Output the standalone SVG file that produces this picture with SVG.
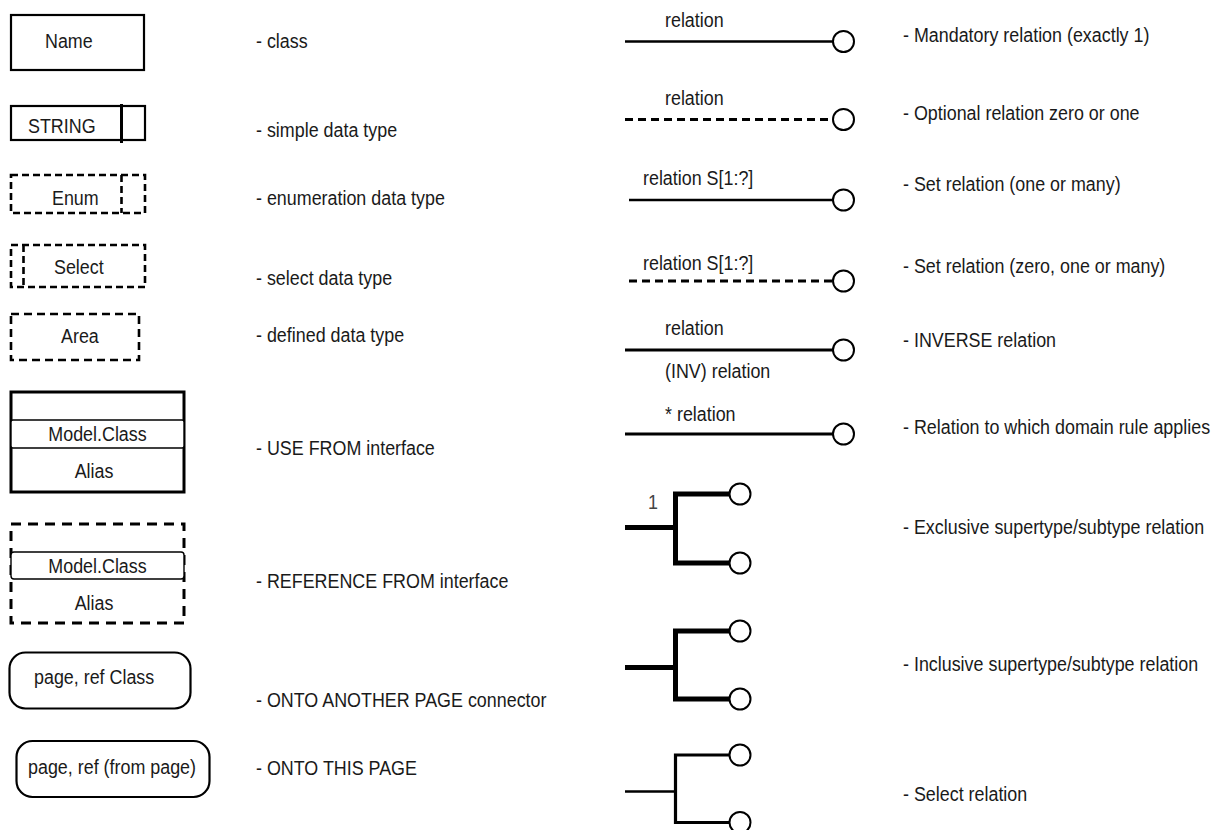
<svg xmlns="http://www.w3.org/2000/svg" width="1221" height="830" viewBox="0 0 1221 830">
  <style>
    text { font-family: "Liberation Sans", Arial, sans-serif; font-size: 17.9px; fill: #1a1a1a; }
    .mid { text-anchor: middle; }
    .box { fill: #fff; stroke: #000; stroke-width: 2.2; }
    .dash { fill: none; stroke: #000; stroke-width: 2.6; stroke-dasharray: 7 4; }
    .thin { fill: #fff; stroke: #000; stroke-width: 1.4; }
    .rel { fill: none; stroke: #000; stroke-width: 2.6; }
    .reld { fill: none; stroke: #000; stroke-width: 2.8; stroke-dasharray: 8 5; }
    .sup { fill: none; stroke: #000; stroke-width: 5; }
    .end { fill: #fff; stroke: #000; stroke-width: 2; }
  </style>
  <rect width="1221" height="830" fill="#fff"/>

  <!-- left column: notation shapes -->
  <g id="class">
    <rect class="box" x="11" y="15" width="133" height="55"/>
    <text transform="translate(45,48) scale(1,1.15)">Name</text>
  </g>
  <g id="simple-type">
    <rect class="box" x="11" y="106" width="134" height="34"/>
    <line x1="121.5" y1="104" x2="121.5" y2="143" stroke="#000" stroke-width="3"/>
    <text transform="translate(28,133) scale(1,1.15)">STRING</text>
  </g>
  <g id="enum-type">
    <rect class="dash" x="11" y="175" width="134" height="38"/>
    <line class="dash" x1="121.5" y1="175" x2="121.5" y2="213"/>
    <text transform="translate(52,205) scale(1,1.15)">Enum</text>
  </g>
  <g id="select-type">
    <rect class="dash" x="11" y="245" width="134" height="42"/>
    <line class="dash" x1="23.5" y1="245" x2="23.5" y2="287"/>
    <text transform="translate(54,274) scale(1,1.15)">Select</text>
  </g>
  <g id="defined-type">
    <rect class="dash" x="11" y="314" width="128" height="46" style="stroke-dasharray:8 5"/>
    <text transform="translate(61,343) scale(1,1.15)">Area</text>
  </g>
  <g id="use-from">
    <rect class="box" x="11" y="392" width="173" height="100" style="stroke-width:3"/>
    <rect class="thin" x="11" y="420" width="173" height="28" rx="2"/>
    <text class="mid" transform="translate(97.5,441) scale(1,1.15)">Model.Class</text>
    <text class="mid" transform="translate(94,478) scale(1,1.15)">Alias</text>
  </g>
  <g id="reference-from">
    <rect class="dash" x="11" y="524" width="173" height="99" style="stroke-width:3;stroke-dasharray:10 7"/>
    <rect class="thin" x="11" y="552" width="173" height="27" rx="3"/>
    <text class="mid" transform="translate(97.5,573) scale(1,1.15)">Model.Class</text>
    <text class="mid" transform="translate(94,610) scale(1,1.15)">Alias</text>
  </g>
  <g id="onto-another-page">
    <rect class="box" x="9.5" y="652.5" width="181" height="56" rx="16"/>
    <text transform="translate(34,684) scale(1,1.15)">page, ref Class</text>
  </g>
  <g id="onto-this-page">
    <rect class="box" x="16.5" y="741" width="193" height="56" rx="16"/>
    <text class="mid" transform="translate(112,774) scale(1,1.15)">page, ref (from page)</text>
  </g>

  <!-- descriptions of the shapes -->
  <g id="shape-notes">
    <text transform="translate(256,48) scale(1,1.15)">- class</text>
    <text transform="translate(256,137) scale(1,1.15)">- simple data type</text>
    <text transform="translate(256,205) scale(1,1.15)">- enumeration data type</text>
    <text transform="translate(256,285) scale(1,1.15)">- select data type</text>
    <text transform="translate(256,342) scale(1,1.15)">- defined data type</text>
    <text transform="translate(256,455) scale(1,1.15)">- USE FROM interface</text>
    <text transform="translate(256,588) scale(1,1.15)">- REFERENCE FROM interface</text>
    <text transform="translate(256,707) scale(1,1.15)">- ONTO ANOTHER PAGE connector</text>
    <text transform="translate(256,775) scale(1,1.15)">- ONTO THIS PAGE</text>
  </g>

  <!-- relation line styles -->
  <g id="connectors">
    <g id="mandatory">
      <line class="rel" x1="625" y1="41.5" x2="833" y2="41.5"/>
      <circle class="end" cx="843.5" cy="41.5" r="10.5"/>
      <text transform="translate(665,27) scale(1,1.15)">relation</text>
    </g>
    <g id="optional">
      <line class="reld" x1="625" y1="119.5" x2="833" y2="119.5"/>
      <circle class="end" cx="843.5" cy="119.5" r="10.5"/>
      <text transform="translate(665,105) scale(1,1.15)">relation</text>
    </g>
    <g id="set">
      <line class="rel" x1="629" y1="200" x2="833" y2="200"/>
      <circle class="end" cx="843.5" cy="200" r="10.5"/>
      <text transform="translate(643,185) scale(1,1.15)">relation S[1:?]</text>
    </g>
    <g id="set-optional">
      <line class="reld" x1="629" y1="281" x2="833" y2="281"/>
      <circle class="end" cx="843.5" cy="281" r="10.5"/>
      <text transform="translate(643,270) scale(1,1.15)">relation S[1:?]</text>
    </g>
    <g id="inverse">
      <line class="rel" x1="625" y1="350" x2="833" y2="350" style="stroke-width:3.2"/>
      <circle class="end" cx="843.5" cy="350" r="10.5"/>
      <text transform="translate(665,335) scale(1,1.15)">relation</text>
      <text transform="translate(665,378) scale(1,1.15)">(INV) relation</text>
    </g>
    <g id="domain-rule">
      <line class="rel" x1="625" y1="434" x2="833" y2="434" style="stroke-width:3.2"/>
      <circle class="end" cx="843.5" cy="434" r="10.5"/>
      <text transform="translate(665,421) scale(1,1.15)">* relation</text>
    </g>
    <g id="exclusive">
      <path class="sup" d="M625 527.5 H675 M730 494 H675.5 V563 H730"/>
      <circle class="end" cx="740" cy="494" r="10.5"/>
      <circle class="end" cx="740" cy="563" r="10.5"/>
      <text transform="translate(648,509) scale(1,1.15)" style="fill:#444">1</text>
    </g>
    <g id="inclusive">
      <path class="sup" d="M625 667.5 H675 M730 631 H675.5 V699 H730"/>
      <circle class="end" cx="740" cy="631" r="10.5"/>
      <circle class="end" cx="740" cy="699" r="10.5"/>
    </g>
    <g id="select">
      <line class="rel" x1="625" y1="791.5" x2="675" y2="791.5"/>
      <path class="rel" d="M730 755 H675.5 V822.5 H730" style="stroke-width:3.2"/>
      <circle class="end" cx="740" cy="755" r="10.5"/>
      <circle class="end" cx="740" cy="822.5" r="10.5"/>
    </g>
  </g>

  <!-- descriptions of the relations -->
  <g id="relation-notes">
    <text transform="translate(903,42) scale(1,1.15)">- Mandatory relation (exactly 1)</text>
    <text transform="translate(903,120) scale(1,1.15)">- Optional relation zero or one</text>
    <text transform="translate(903,191) scale(1,1.15)">- Set relation (one or many)</text>
    <text transform="translate(903,273) scale(1,1.15)">- Set relation (zero, one or many)</text>
    <text transform="translate(903,347) scale(1,1.15)">- INVERSE relation</text>
    <text transform="translate(903,434) scale(1,1.15)">- Relation to which domain rule applies</text>
    <text transform="translate(903,534) scale(1,1.15)">- Exclusive supertype/subtype relation</text>
    <text transform="translate(903,671) scale(1,1.15)">- Inclusive supertype/subtype relation</text>
    <text transform="translate(903,801) scale(1,1.15)">- Select relation</text>
  </g>
</svg>
